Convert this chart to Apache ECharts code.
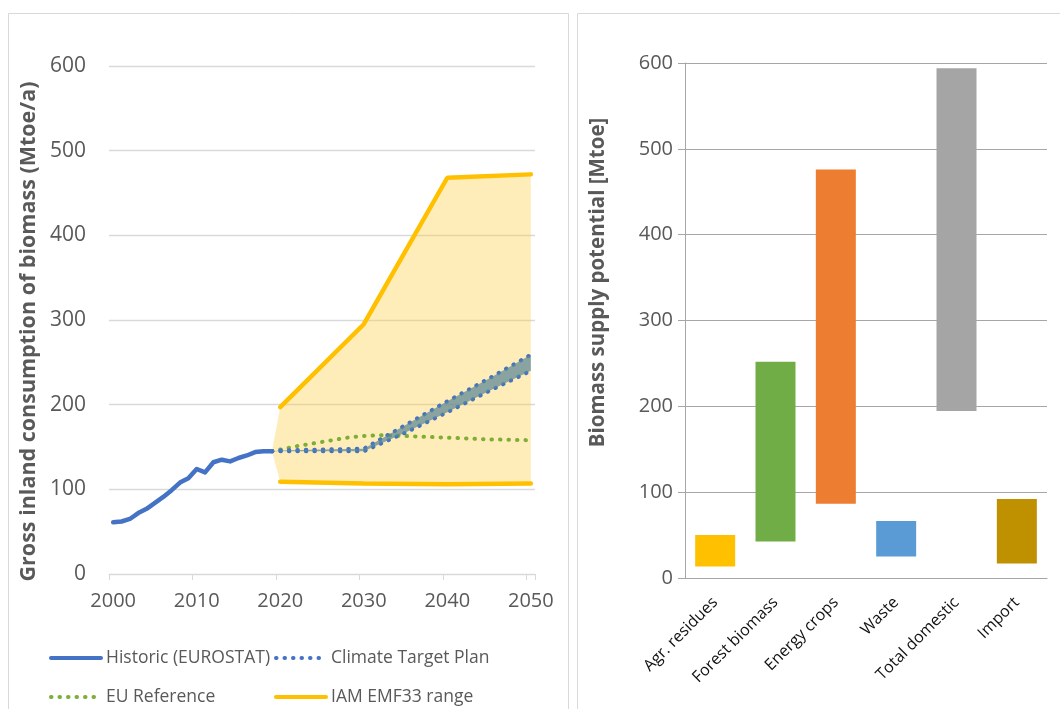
<!DOCTYPE html>
<html>
<head>
<meta charset="utf-8">
<script src="https://cdn.jsdelivr.net/npm/echarts@6/dist/echarts.min.js"></script>
<style>
html,body{margin:0;padding:0;background:#fff;}
#main{width:1060px;height:709px;}
</style>
</head>
<body>
<div id="main"></div>
<script>
// ---------- Left chart data ----------
const yearCats = Array.from({length: 51}, (_, i) => String(2000 + i));
const leftYTicks = [0, 100, 200, 300, 400, 500, 600];

const histYears  = ['2000','2001','2002','2003','2004','2005','2006','2007','2008','2009','2010','2011','2012','2013','2014','2015','2016','2017','2018','2019'];
const histValues = [61, 62, 65, 72, 77, 84, 91, 99, 108, 113, 124, 120, 132, 135, 133, 137, 140, 144, 145, 145];

const ctpYears = ['2019','2020','2025','2030','2035','2040','2045','2050'];
const ctpLow   = [145, 145, 145, 145, 167, 191, 216, 240];
const ctpHigh  = [145, 146, 147, 148, 176, 204, 231, 259];

const euYears  = ['2019','2020','2022','2025','2028','2030','2032','2035','2040','2045','2050'];
const euValues = [145, 147, 151, 156, 161, 163, 164, 163, 161, 159, 158];

const iamYears = ['2020','2030','2040','2050'];
const iamHigh  = [197, 295, 468, 472];
const iamLow   = [109, 107, 106, 107];
const iamBandStartYear = '2019';
const iamBandStartValue = 145;

// ---------- Right chart data ----------
const supplyCats   = ['Agr. residues', 'Forest biomass', 'Energy crops', 'Waste', 'Total domestic', 'Import'];
const supplyLow    = [13.5, 42.5, 86.5, 25, 194.5, 17];
const supplyHigh   = [50, 252, 476, 66.5, 594, 92];
const supplyColors = ['#FFC000', '#70AD47', '#ED7D31', '#5B9BD5', '#A5A5A5', '#BF9000'];

// ---------- helpers ----------
const FONT = '"Open Sans", "Liberation Sans", sans-serif';
const TXT = '#595959';
const pairs = (xs, ys) => xs.map((x, i) => [x, ys[i]]);
const idx = y => yearCats.indexOf(y);

function bandRender(xs, hi, lo, style) {
  return function (params, api) {
    if (params.dataIndex !== 0) return null;
    const pts = [];
    for (let i = 0; i < xs.length; i++) pts.push(api.coord([idx(xs[i]), hi[i]]));
    for (let i = xs.length - 1; i >= 0; i--) pts.push(api.coord([idx(xs[i]), lo[i]]));
    return { type: 'polygon', shape: { points: pts }, style: style };
  };
}

const bandXs = [iamBandStartYear].concat(iamYears);
const bandHi = [iamBandStartValue].concat(iamHigh);
const bandLo = [iamBandStartValue].concat(iamLow);

const dotted = [0.5, 8];

function legendItem(name, left, top) {
  return {
    data: [name], left: left, top: top, orient: 'horizontal', padding: 0,
    itemWidth: 50, itemHeight: 14, itemGap: 5, selectedMode: false,
    itemStyle: { opacity: 0 },
    lineStyle: { width: 4 },
    textStyle: { fontFamily: FONT, fontSize: 17.5, color: TXT }
  };
}

const option = {
  animation: false,
  backgroundColor: '#fff',
  graphic: [
    { type: 'rect', shape: { x: 8.5, y: 13.5, width: 560, height: 720 }, style: { fill: 'none', stroke: '#d9d9d9', lineWidth: 1 }, silent: true },
    { type: 'rect', shape: { x: 577.5, y: 13.5, width: 500, height: 720 }, style: { fill: 'none', stroke: '#d9d9d9', lineWidth: 1 }, silent: true }
  ],
  legend: [
    legendItem('Historic (EUROSTAT)', 49, 649),
    legendItem('Climate Target Plan', 274, 649),
    legendItem('EU Reference', 49, 688),
    legendItem('IAM EMF33 range', 274, 688)
  ],
  grid: [
    { left: 109, right: 525, top: 66, bottom: 135, containLabel: false },
    { left: 685, right: 13, top: 63, bottom: 131, containLabel: false }
  ],
  xAxis: [
    {
      gridIndex: 0, type: 'category', data: yearCats, boundaryGap: true,
      axisLine: { show: true, lineStyle: { color: '#d9d9d9', width: 1 } },
      axisTick: { show: true, interval: 9, length: 6, lineStyle: { color: '#d9d9d9' } },
      axisLabel: { interval: 9, margin: 17, fontFamily: FONT, fontSize: 20, color: TXT },
      splitLine: { show: false }
    },
    {
      gridIndex: 1, type: 'category', data: supplyCats,
      axisLine: { show: true, lineStyle: { color: '#a6a6a6', width: 1 } },
      axisTick: { show: false },
      axisLabel: { interval: 0, rotate: 45, margin: 22, fontFamily: FONT, fontSize: 16, color: '#111' }
    }
  ],
  yAxis: [
    {
      gridIndex: 0, type: 'value', min: 0, max: 600, interval: 100,
      name: 'Gross inland consumption of biomass (Mtoe/a)', nameLocation: 'middle', nameGap: 69,
      nameTextStyle: { fontFamily: FONT, fontSize: 21.5, fontWeight: 'bold', color: TXT, padding: [0, 23, 0, 0] },
      axisLine: { show: false }, axisTick: { show: false },
      axisLabel: { margin: 23, fontFamily: FONT, fontSize: 21, color: TXT },
      splitLine: { show: true, lineStyle: { color: '#d9d9d9', width: 1.3 } }
    },
    {
      gridIndex: 1, type: 'value', min: 0, max: 600, interval: 100,
      name: 'Biomass supply potential [Mtoe]', nameLocation: 'middle', nameGap: 76,
      nameTextStyle: { fontFamily: FONT, fontSize: 20.5, fontWeight: 'bold', color: TXT, padding: [0, 0, 0, 76] },
      axisLine: { show: true, lineStyle: { color: '#a6a6a6', width: 1 } },
      axisTick: { show: true, length: 7, lineStyle: { color: '#a6a6a6' } },
      axisLabel: { margin: 12, fontFamily: FONT, fontSize: 20, color: TXT },
      splitLine: { show: true, lineStyle: { color: '#a6a6a6', width: 1 } }
    }
  ],
  series: [
    {
      type: 'custom', name: 'iamBand', xAxisIndex: 0, yAxisIndex: 0, z: 1, silent: true,
      data: [[0, 0]], clip: false,
      renderItem: bandRender(bandXs, bandHi, bandLo, { fill: 'rgba(255,205,60,0.36)' })
    },
    {
      type: 'line', name: 'IAM EMF33 range', xAxisIndex: 0, yAxisIndex: 0, z: 3,
      data: pairs(iamYears, iamHigh), symbol: 'none', color: '#FFC000',
      lineStyle: { color: '#FFC000', width: 4.5, cap: 'round' }
    },
    {
      type: 'line', name: 'IAM EMF33 range', xAxisIndex: 0, yAxisIndex: 0, z: 3,
      data: pairs(iamYears, iamLow), symbol: 'none', color: '#FFC000',
      lineStyle: { color: '#FFC000', width: 4.5, cap: 'round' }
    },
    {
      type: 'line', name: 'EU Reference', xAxisIndex: 0, yAxisIndex: 0, z: 4,
      data: pairs(euYears, euValues), symbol: 'none', color: '#7DAE35',
      lineStyle: { color: '#7DAE35', width: 4, type: dotted, cap: 'round' }
    },
    {
      type: 'line', name: 'Climate Target Plan', xAxisIndex: 0, yAxisIndex: 0, z: 5,
      data: pairs(ctpYears, ctpLow), symbol: 'none', color: '#4472C4',
      lineStyle: { color: '#4472C4', width: 4, type: dotted, cap: 'round' }
    },
    {
      type: 'line', name: 'Climate Target Plan', xAxisIndex: 0, yAxisIndex: 0, z: 5,
      data: pairs(ctpYears, ctpHigh), symbol: 'none', color: '#4472C4',
      lineStyle: { color: '#4472C4', width: 4, type: dotted, cap: 'round' }
    },
    {
      type: 'custom', name: 'ctpBand', xAxisIndex: 0, yAxisIndex: 0, z: 6, silent: true,
      data: [[0, 0]], clip: false,
      renderItem: bandRender(ctpYears, ctpHigh, ctpLow, { fill: 'rgba(90,135,150,0.72)' })
    },
    {
      type: 'line', name: 'Historic (EUROSTAT)', xAxisIndex: 0, yAxisIndex: 0, z: 7,
      data: pairs(histYears, histValues), symbol: 'none', color: '#4472C4',
      lineStyle: { color: '#4472C4', width: 4.5, cap: 'round', join: 'round' }
    },
    {
      type: 'bar', name: 'base', xAxisIndex: 1, yAxisIndex: 1, stack: 'supply',
      data: supplyLow, itemStyle: { color: 'transparent' }, barWidth: 40, silent: true
    },
    {
      type: 'bar', name: 'range', xAxisIndex: 1, yAxisIndex: 1, stack: 'supply', barWidth: 40,
      data: supplyHigh.map((v, i) => ({ value: v - supplyLow[i], itemStyle: { color: supplyColors[i] } }))
    }
  ]
};

const chart = echarts.init(document.getElementById('main'), null, { renderer: 'canvas' });
chart.setOption(option);
</script>
</body>
</html>
